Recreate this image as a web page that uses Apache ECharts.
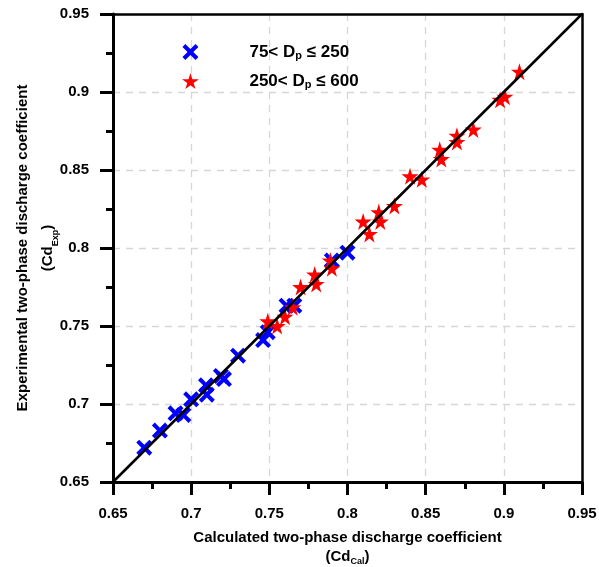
<!DOCTYPE html>
<html><head><meta charset="utf-8">
<script src="https://cdn.jsdelivr.net/npm/echarts@6/dist/echarts.min.js"></script>
<style>html,body{margin:0;padding:0;background:#fff}#c{width:599px;height:567px}</style>
</head><body><div id="c"></div>
<script>
const blueX = [0.67,0.68,0.69,0.695,0.70,0.7095,0.71,0.719,0.721,0.73,0.746,0.749,0.761,0.766,0.79,0.80];
const blueY = [0.672,0.683,0.694,0.693,0.703,0.712,0.706,0.718,0.716,0.731,0.741,0.746,0.763,0.763,0.792,0.797];
const redX = [0.749,0.755,0.760,0.765,0.770,0.779,0.780,0.789,0.790,0.810,0.814,0.820,0.821,0.830,0.840,0.8475,0.859,0.860,0.870,0.870,0.8805,0.8976,0.9007,0.910];
const redY = [0.753,0.750,0.756,0.762,0.775,0.783,0.777,0.792,0.787,0.817,0.809,0.823,0.817,0.827,0.846,0.844,0.863,0.857,0.872,0.868,0.876,0.895,0.897,0.913];
const lineX = [0.65, 0.95];
const lineY = [0.65, 0.95];
const seriesNames = ['75< D_p ≤ 250', '250< D_p ≤ 600'];

const FONT = 'Liberation Sans, Arial, sans-serif';
const starPath = 'path://M50,0 L61,35 L98,35 L68,57 L79,91 L50,70 L21,91 L32,57 L2,35 L39,35 Z';
const xPath = 'path://M0,18 L18,0 L50,32 L82,0 L100,18 L68,50 L100,82 L82,100 L50,68 L18,100 L0,82 L32,50 Z';
const zip = (a, b) => a.map((v, i) => [v, b[i]]);

const chart = echarts.init(document.getElementById('c'), null, {renderer: 'canvas'});
const titleRich = (lh) => ({
  a: {fontSize: 15, fontWeight: 'bold', fontFamily: FONT, color: '#000', lineHeight: lh},
  s: {fontSize: 9, fontWeight: 'bold', fontFamily: FONT, color: '#000', verticalAlign: 'bottom', padding: [9, 0, 0, 0], lineHeight: lh}
});
const axisCommon = {
  type: 'value', min: 0.65, max: 0.95, interval: 0.05,
  axisLine: {show: true, onZero: false, lineStyle: {color: '#000', width: 3}},
  axisTick: {show: true, inside: false, length: 13, lineStyle: {color: '#000', width: 3}},
  minorTick: {show: true, splitNumber: 2, length: 7, lineStyle: {color: '#000', width: 3}},
  splitLine: {show: true, showMinLine: false, showMaxLine: false, lineStyle: {color: '#d6d6d6', type: [7, 6], width: 1.3}},
  axisLabel: {fontSize: 15, fontWeight: 'bold', fontFamily: FONT, color: '#000'},
  nameLocation: 'middle',
  nameMoveOverlap: false
};
const borderAxis = {
  type: 'value', min: 0.65, max: 0.95, interval: 0.05,
  axisLine: {show: true, onZero: false, lineStyle: {color: '#000', width: 2.5}},
  axisTick: {show: false}, axisLabel: {show: false}, splitLine: {show: false}
};
chart.setOption({
  animation: false,
  backgroundColor: '#fff',
  grid: {left: 113, top: 14, width: 469, height: 468, outerBoundsMode: 'none', containLabel: false},
  legend: {
    left: 177, top: 37, orient: 'vertical', itemGap: 10, itemWidth: 18, itemHeight: 16,
    data: seriesNames,
    formatter: function (n) {
      const parts = n.split('D_p');
      return '{g|}{a|' + parts[0] + 'D}{s|p}{a|' + parts[1] + '}';
    },
    textStyle: {
      rich: {
        g: {width: 45},
        a: {fontSize: 17, fontWeight: 'bold', fontFamily: FONT, color: '#000', lineHeight: 18},
        s: {fontSize: 11, fontWeight: 'bold', fontFamily: FONT, color: '#000', verticalAlign: 'bottom', padding: [8, 0, 0, 0], lineHeight: 18}
      }
    }
  },
  xAxis: [Object.assign({}, axisCommon, {
    position: 'bottom',
    axisLabel: Object.assign({}, axisCommon.axisLabel, {margin: 24}),
    name: '{a|Calculated two-phase discharge coefficient}\n{a|(Cd}{s|Cal}{a|)}',
    nameTextStyle: {rich: titleRich(19)},
    nameGap: 46
  }), Object.assign({}, borderAxis, {position: 'top'})],
  yAxis: [Object.assign({}, axisCommon, {
    position: 'left',
    axisLabel: Object.assign({}, axisCommon.axisLabel, {margin: 24}),
    name: '{a|Experimental two-phase discharge coefficient}\n{a|(Cd}{s|Exp}{a|)}',
    nameTextStyle: {rich: titleRich(25)},
    nameGap: 53
  }), Object.assign({}, borderAxis, {position: 'right'})],
  series: [
    {name: seriesNames[0], type: 'scatter', data: zip(blueX, blueY), symbol: xPath, symbolSize: 16,
      itemStyle: {color: '#0000ff', opacity: 1}, z: 3},
    {name: seriesNames[1], type: 'scatter', data: zip(redX, redY), symbol: starPath, symbolSize: 17,
      itemStyle: {color: '#ff0000', opacity: 1}, z: 4},
    {name: 'line', type: 'line', data: zip(lineX, lineY), symbol: 'none', silent: true,
      lineStyle: {color: '#000', width: 2.5}, z: 5}
  ]
});
</script></body></html>
